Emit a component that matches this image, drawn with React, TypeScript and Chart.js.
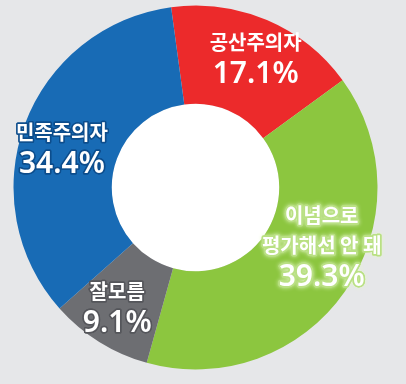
import React, { useEffect, useRef } from "react";
import { Chart, registerables } from "chart.js";

Chart.register(...registerables);

const categories: string[][] = [["공산주의자"], ["이념으로", "평가해선 안 돼"], ["잘모름"], ["민족주의자"]];
const values: number[] = [17.1, 39.3, 9.1, 34.4];
const valueLabels: string[] = ["17.1%", "39.3%", "9.1%", "34.4%"];

const colors = ["#ec2a2b", "#8cc63f", "#6d6e72", "#186bb5"];
const strokeColors = ["rgba(0,0,0,0)", "#b9e083", "#55565b", "#0d4d8c"];
const glowColors = ["rgba(0,0,0,0)", "#e4f5c8", "rgba(0,0,0,0)", "rgba(0,0,0,0)"];
const labelOffsets = [
  [8, -7],
  [17, -17],
  [-8, 7.5],
  [-9, 7.5],
];

const holePlugin = {
  id: "hole",
  beforeDatasetsDraw(chart: any) {
    const meta = chart.getDatasetMeta(0);
    const arc = meta.data[0];
    if (!arc) return;
    const { x, y, innerRadius } = arc.getProps(["x", "y", "innerRadius"], true);
    const ctx = chart.ctx;
    ctx.save();
    ctx.beginPath();
    ctx.arc(x, y, innerRadius, 0, Math.PI * 2);
    ctx.fillStyle = "#ffffff";
    ctx.fill();
    ctx.restore();
  },
};

const labelPlugin = {
  id: "labels",
  afterDatasetsDraw(chart: any) {
    const meta = chart.getDatasetMeta(0);
    const ctx = chart.ctx;
    meta.data.forEach((arc: any, i: number) => {
      const c = arc.getCenterPoint(true);
      const cx = c.x + labelOffsets[i][0];
      const cy = c.y + labelOffsets[i][1];
      const lines = categories[i];
      const lineH = 30;
      const total = lines.length * lineH + 32;
      let y = cy - total / 2 + lineH / 2;
      const draw = (t: string, yy: number) => {
        ctx.save();
        ctx.shadowColor = glowColors[i];
        ctx.shadowBlur = 4;
        ctx.strokeText(t, cx, yy);
        ctx.restore();
        ctx.strokeText(t, cx, yy);
        ctx.fillText(t, cx, yy);
      };
      ctx.save();
      ctx.textAlign = "center";
      ctx.textBaseline = "middle";
      ctx.lineJoin = "round";
      ctx.lineWidth = 3;
      ctx.strokeStyle = strokeColors[i];
      ctx.fillStyle = "#ffffff";
      ctx.font = "bold 20px 'Noto Sans CJK KR', 'Noto Sans', sans-serif";
      lines.forEach((t) => {
        draw(t, y);
        y += lineH;
      });
      y += 2;
      ctx.font = "600 30px 'Noto Sans', 'Noto Sans CJK KR', sans-serif";
      draw(valueLabels[i], y);
      ctx.restore();
    });
  },
};

export default function App() {
  const ref = useRef<HTMLCanvasElement>(null);
  useEffect(() => {
    document.body.style.margin = "0";
    document.body.style.background = "#e6e7e9";
    const chart = new Chart(ref.current!, {
      type: "doughnut",
      data: {
        labels: categories.map((c) => c.join(" ")),
        datasets: [
          {
            data: values,
            backgroundColor: colors,
            borderWidth: 0,
          },
        ],
      },
      options: {
        responsive: false,
        animation: false,
        cutout: "46%",
        rotation: -7.7,
        layout: { padding: { top: 5.5, bottom: 14.5, left: 13.5, right: 28.5 } },
        plugins: { legend: { display: false }, tooltip: { enabled: false } },
      },
      plugins: [holePlugin, labelPlugin],
    });
    return () => chart.destroy();
  }, []);
  return (
    <div style={{ width: 406, height: 384, background: "#e6e7e9" }}>
      <canvas ref={ref} width={406} height={384} style={{ display: "block" }} />
    </div>
  );
}
